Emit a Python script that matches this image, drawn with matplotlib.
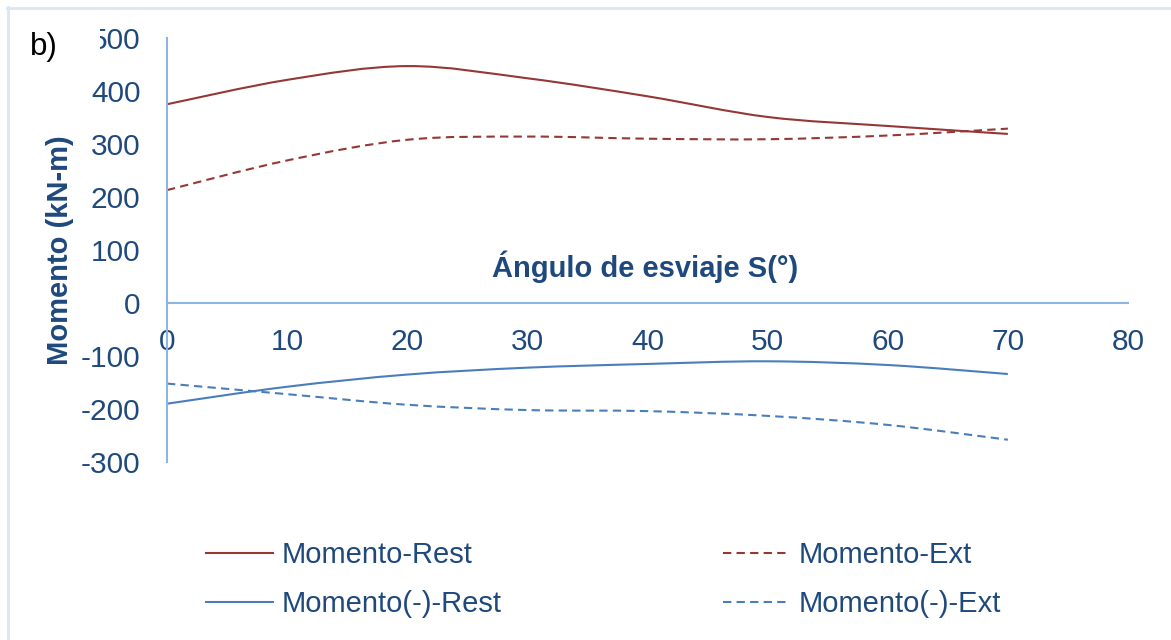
import matplotlib
matplotlib.use("Agg")
import matplotlib.pyplot as plt
from matplotlib.path import Path
from matplotlib.patches import PathPatch, Rectangle
from matplotlib.lines import Line2D
import numpy as np

# Skew angle (degrees) and bending moments (kN-m)
angles = [0, 10, 20, 30, 40, 50, 60, 70]
mom_rest = [375, 421, 447, 424, 390, 351, 334, 319]
mom_ext = [213, 269, 308, 314, 310, 309, 316, 329]
mom_neg_rest = [-190, -158, -135, -122, -115, -110, -117, -134]
mom_neg_ext = [-152, -172, -192, -202, -204, -213, -230, -258]

x_ticks = [0, 10, 20, 30, 40, 50, 60, 70, 80]
y_ticks = [-300, -200, -100, 0, 100, 200, 300, 400, 500]

RED = "#953735"
BLUE = "#4A7EBB"
AXIS = "#8EB4E3"
TXT = "#1F497D"

plt.rcParams["font.family"] = ["Liberation Sans", "DejaVu Sans"]
plt.rcParams["axes.unicode_minus"] = False


def smooth_path(xs, ys, t=1.0 / 6.0):
    """Cubic Bezier path through the points (spreadsheet-style smoothed line)."""
    pts = np.column_stack([xs, ys]).astype(float)
    n = len(pts)
    verts = [pts[0]]
    codes = [Path.MOVETO]
    for i in range(n - 1):
        p_prev = pts[i - 1] if i > 0 else pts[i]
        p0 = pts[i]
        p1 = pts[i + 1]
        p_next = pts[i + 2] if i + 2 < n else pts[i + 1]
        c1 = p0 + (p1 - p_prev) * t
        c2 = p1 - (p_next - p0) * t
        verts += [c1, c2, p1]
        codes += [Path.CURVE4] * 3
    return Path(verts, codes)


fig = plt.figure(figsize=(11.71, 6.40), dpi=100)
ax = fig.add_axes([167 / 1171, 1 - 462 / 640, (1128 - 167) / 1171, (462 - 38) / 640])

series = [
    (mom_rest, RED, "-", "Momento-Rest"),
    (mom_ext, RED, (0, (4, 2.5)), "Momento-Ext"),
    (mom_neg_rest, BLUE, "-", "Momento(-)-Rest"),
    (mom_neg_ext, BLUE, (0, (4, 2.5)), "Momento(-)-Ext"),
]
handles = {}
for vals, color, ls, label in series:
    patch = PathPatch(smooth_path(angles, vals), facecolor="none", edgecolor=color,
                      linewidth=1.5, linestyle=ls, capstyle="butt")
    ax.add_patch(patch)
    handles[label] = Line2D([], [], color=color, linewidth=1.5, linestyle=ls)

ax.set_xlim(0, 80)
ax.set_ylim(-300, 500)
ax.set_xticks(x_ticks)
ax.set_yticks(y_ticks)
for s in ("top", "right"):
    ax.spines[s].set_visible(False)
ax.spines["bottom"].set_position(("data", 0))
for s in ("left", "bottom"):
    ax.spines[s].set_color(AXIS)
    ax.spines[s].set_linewidth(1.5)
ax.tick_params(axis="both", length=0, labelsize=21.5, labelcolor=TXT)
ax.tick_params(axis="x", pad=18)
ax.tick_params(axis="y", pad=19)
ax.set_facecolor("none")

# Axis titles
fig.text(60 / 1171, 1 - 250 / 640, "Momento (kN-m)", rotation=90, ha="center", va="center",
         fontsize=21, fontweight="bold", color=TXT)
ax.text(39.8, 68, "Ángulo de esviaje S(°)", ha="center", va="center",
        fontsize=21, fontweight="bold", color=TXT)

# Panel label with its white box
fig.add_artist(Rectangle((20 / 1171, 1 - 72 / 640), 80 / 1171, 50 / 640,
                         transform=fig.transFigure, facecolor="white", edgecolor="none", zorder=5))
fig.text(30 / 1171, 1 - 47 / 640, "b)", ha="left", va="center", fontsize=22.5, color="black", zorder=6)

# Chart border
fig.add_artist(Line2D([7 / 1171, 1], [1 - 7.5 / 640, 1 - 7.5 / 640], transform=fig.transFigure,
                      color="#DCE6F2", linewidth=2))
fig.add_artist(Line2D([7.5 / 1171, 7.5 / 1171], [0, 1 - 7 / 640], transform=fig.transFigure,
                      color="#DCE6F2", linewidth=2))

# Legend, two columns
leg_kw = dict(frameon=False, fontsize=21, handlelength=2.3, handletextpad=0.28,
              labelspacing=0.72, borderpad=0, borderaxespad=0, loc="upper left",
              bbox_transform=fig.transFigure)
col1 = ["Momento-Rest", "Momento(-)-Rest"]
col2 = ["Momento-Ext", "Momento(-)-Ext"]
leg1 = fig.legend([handles[k] for k in col1], col1, bbox_to_anchor=(206 / 1171, 1 - 541 / 640), **leg_kw)
leg2 = fig.legend([handles[k] for k in col2], col2, bbox_to_anchor=(723 / 1171, 1 - 541 / 640), **leg_kw)
for leg in (leg1, leg2):
    for t in leg.get_texts():
        t.set_color(TXT)

fig.savefig("out.png", dpi=100, facecolor="white")
